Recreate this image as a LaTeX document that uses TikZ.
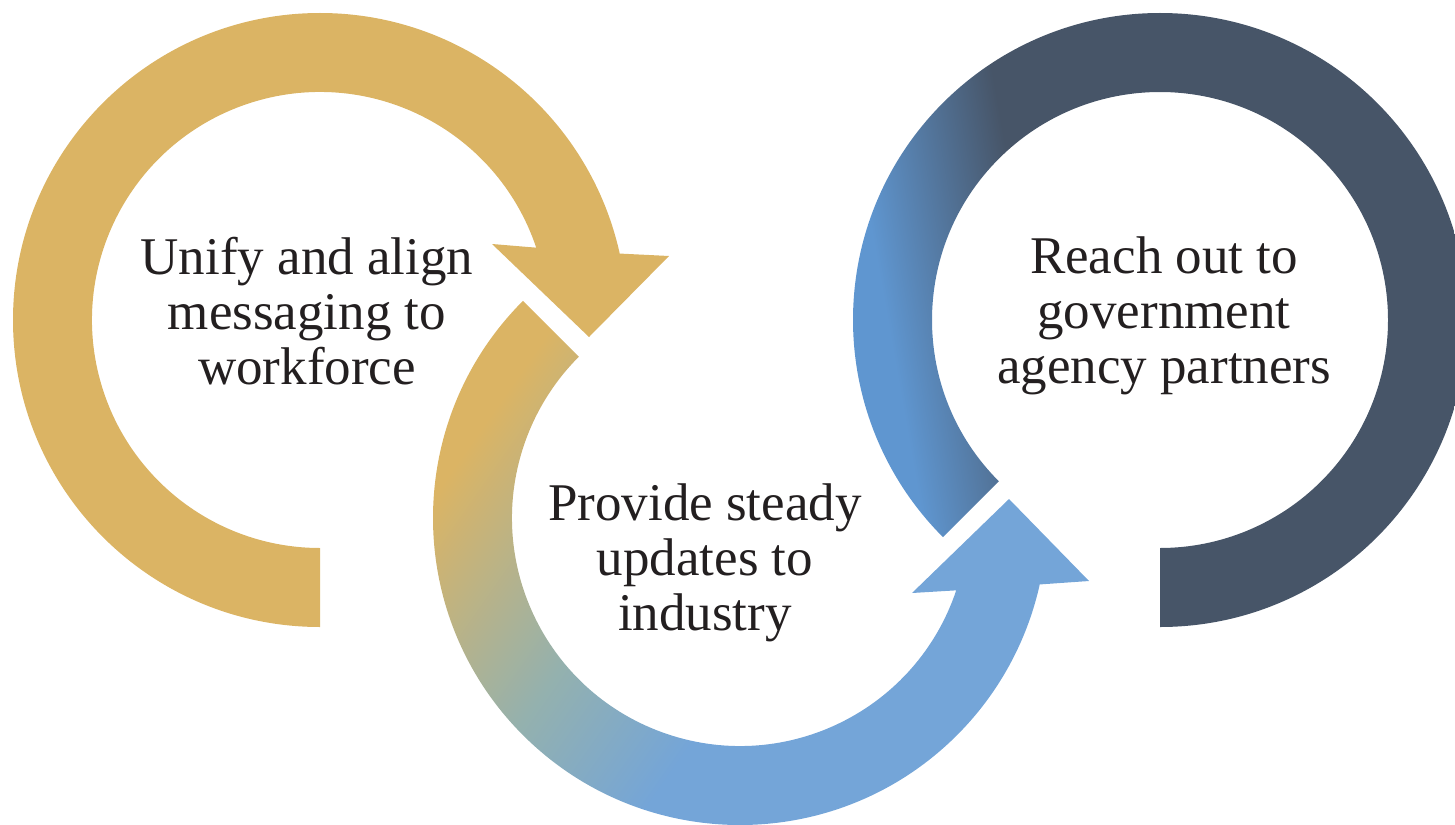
\documentclass[tikz,border=0pt]{standalone}
\usepackage{fontspec}
\setmainfont{Liberation Serif}
\definecolor{ringgold}{HTML}{DBB464}
\definecolor{ringsage}{HTML}{94B1AE}
\definecolor{ringblue}{HTML}{74A5D8}
\definecolor{ringsky}{HTML}{5F96D0}
\definecolor{ringslate}{HTML}{475568}
\definecolor{inktext}{HTML}{231F20}
\pgfdeclarehorizontalshading{goldtoblue}{100bp}{color(0bp)=(ringgold); color(26bp)=(ringgold); color(42bp)=(ringsage); color(54bp)=(ringblue); color(100bp)=(ringblue)}
\pgfdeclarehorizontalshading{skytoslate}{100bp}{color(0bp)=(ringsky); color(28bp)=(ringsky); color(40bp)=(ringslate); color(100bp)=(ringslate)}

\begin{document}
\begin{tikzpicture}[
		x=1pt, y=1pt,
		msg/.style={text=inktext, align=center, font=\fontsize{53}{55}\selectfont}
	]
	\clip (0,0) rectangle (1455,-824);

	\fill[ringgold] (320,-627) arc[start angle=270, end angle=12.5, radius=307pt]
		-- (669,-256) -- (589,-337) -- (492,-244)
		-- ([shift={(320,-320)}]18.5:228pt) arc[start angle=18.5, end angle=270, radius=228pt] -- cycle;

	\shade[shading=goldtoblue, shading angle=-35] ([shift={(740,-518)}]135:307pt)
		arc[start angle=135, end angle=347.5, radius=307pt]
		-- (1089,-581) -- (1009,-499) -- (912,-593)
		-- ([shift={(740,-518)}]341.5:228pt) arc[start angle=341.5, end angle=135, radius=228pt] -- cycle;

	\shade[shading=skytoslate, shading angle=10] (1160,-627)
		arc[start angle=-90, end angle=225, radius=307pt]
		-- ([shift={(1160,-320)}]225:228pt) arc[start angle=225, end angle=-90, radius=228pt] -- cycle;

	\node[msg] (unify) at (307,-311) {Unify and align\\messaging to\\workforce};
	\node[msg] (provide) at (705,-563) {Provide steady\\updates to\\industry};
	\node[msg] (reach) at (1164,-316) {Reach out to\\government\\agency partners};
\end{tikzpicture}
\end{document}
